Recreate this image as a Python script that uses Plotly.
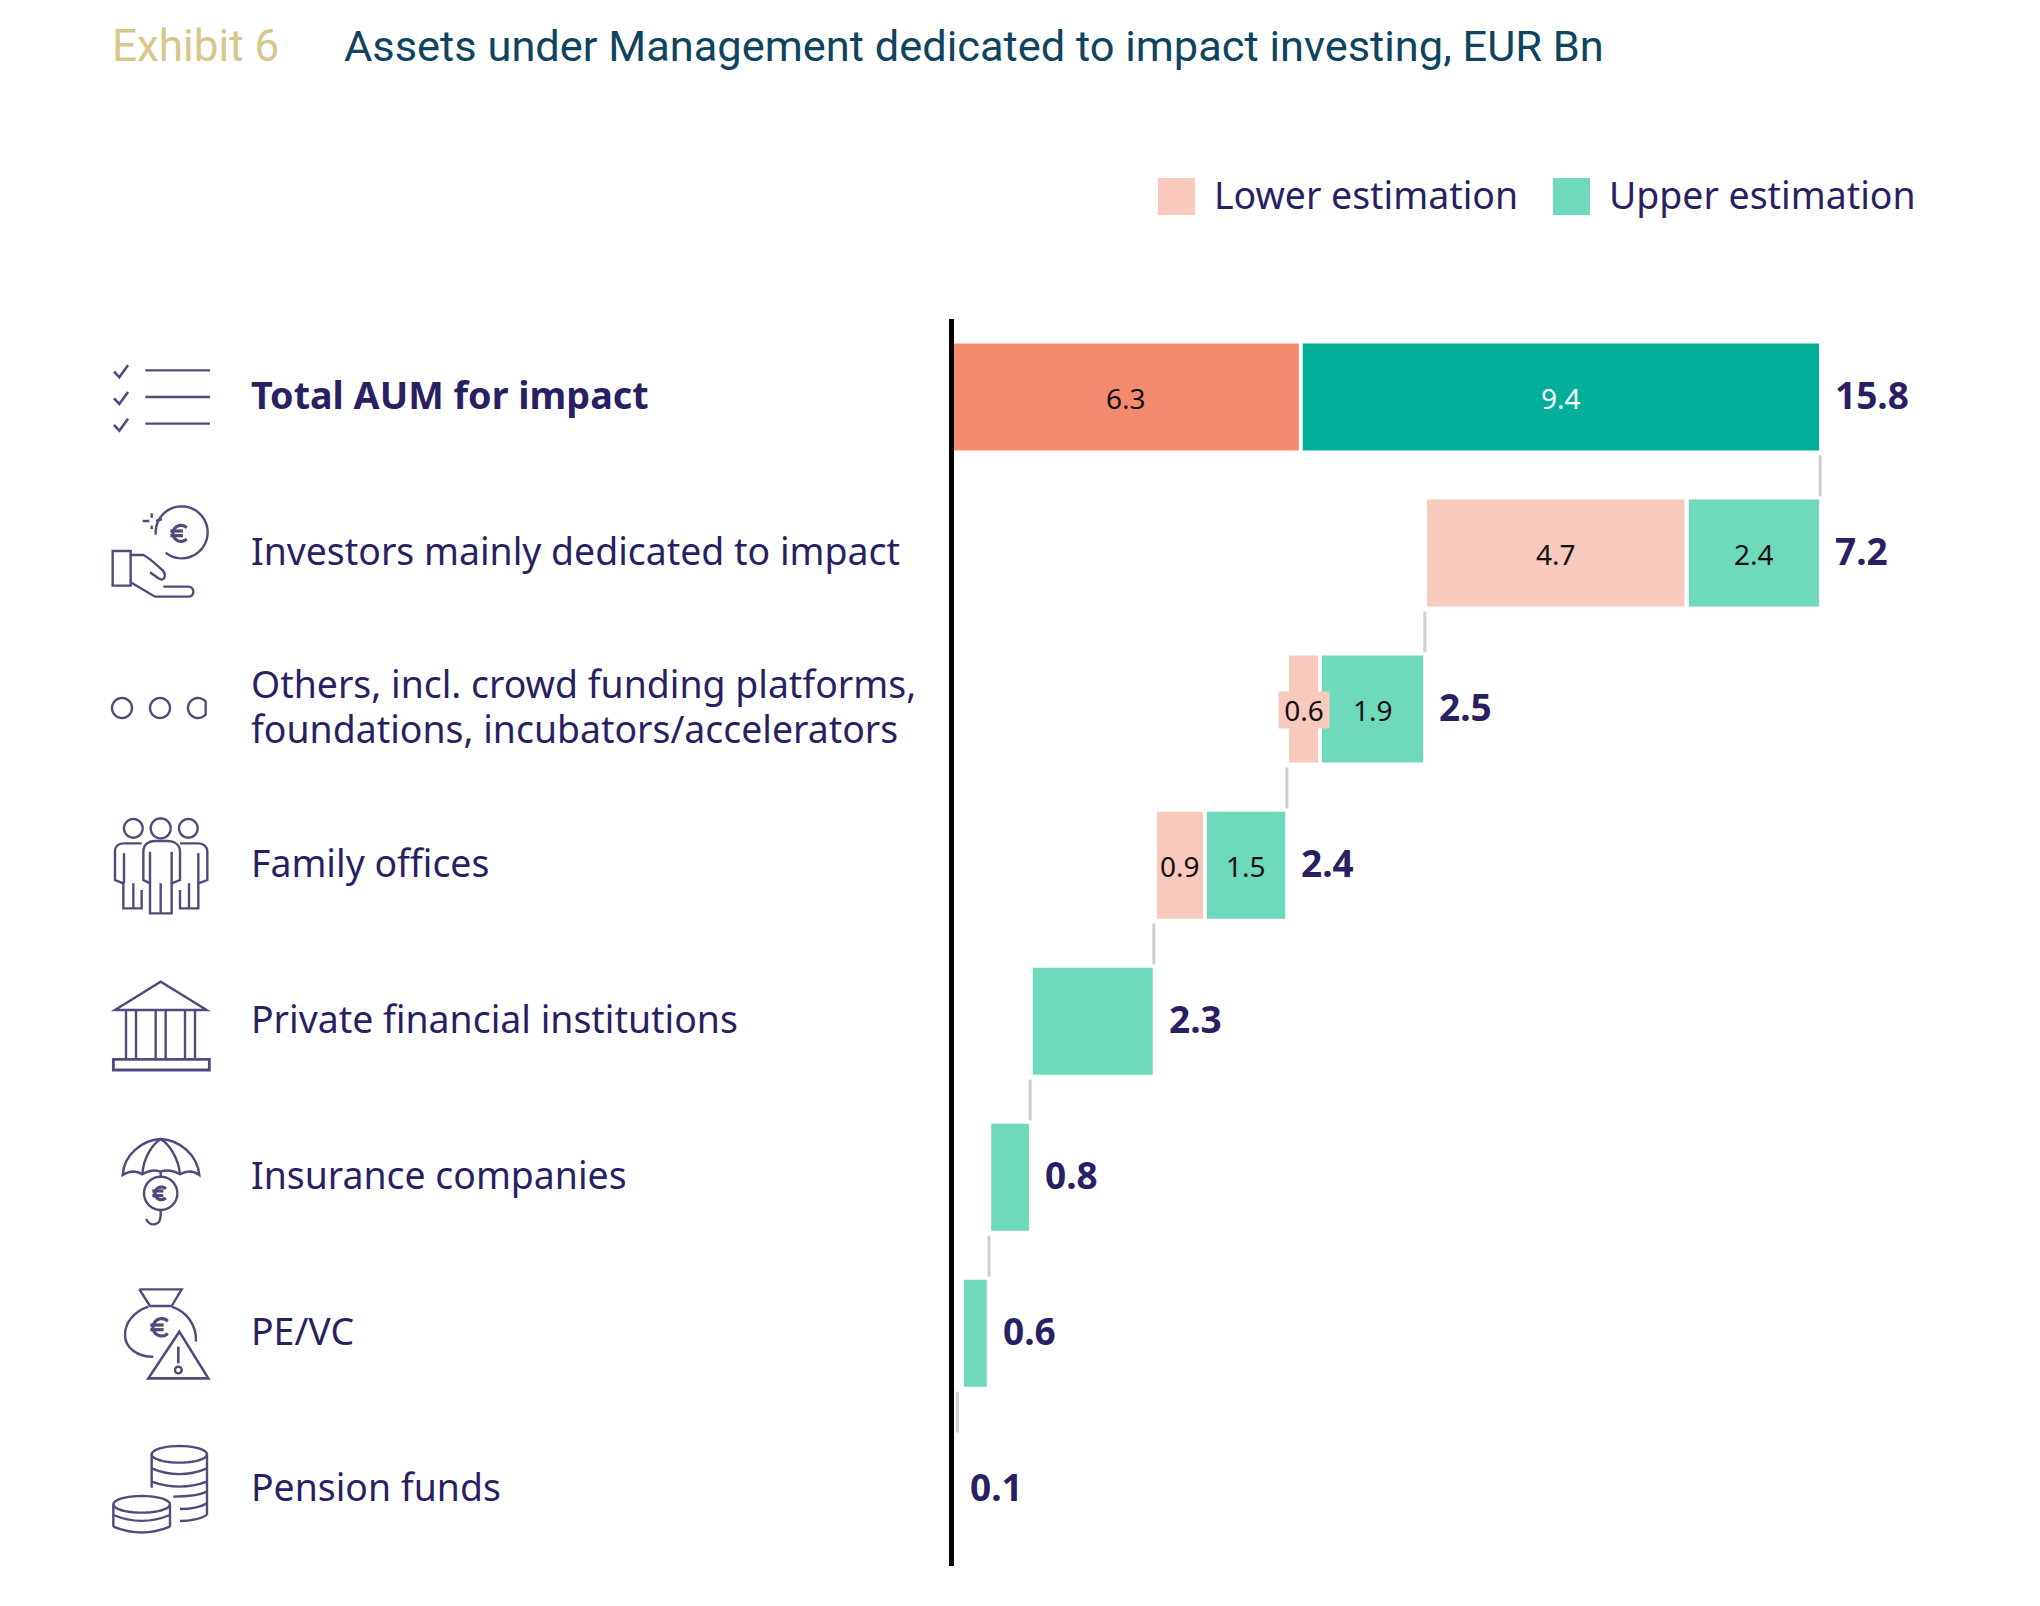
import math
import re
import plotly.graph_objects as go

W, H = 2040, 1606

# ---- data -----------------------------------------------------------------
categories = ["Total AUM for impact", "Investors mainly dedicated to impact",
              "Others, incl. crowd funding platforms,<br>foundations, incubators/accelerators",
              "Family offices", "Private financial institutions", "Insurance companies",
              "PE/VC", "Pension funds"]
rows = [0, 1, 2, 3, 4, 5, 6, 7]
totals = [15.8, 7.2, 2.5, 2.4, 2.3, 0.8, 0.6, 0.1]
lower_start = [0.0, 8.64, 6.12, 3.71, 0, 0, 0, 0]
lower_len = [6.3, 4.7, 0.53, 0.84, 0, 0, 0, 0]
upper_start = [6.37, 13.42, 6.72, 4.62, 1.44, 0.68, 0.18, 0]
upper_len = [9.43, 2.38, 1.85, 1.43, 2.19, 0.69, 0.42, 0]
lower_text = ["6.3", "4.7", "0.6", "0.9"]
upper_text = ["9.4", "2.4", "1.9", "1.5"]
connector_x = [15.82, 8.6, 6.08, 3.65, 1.39, 0.64, 0.06]

LOWER_DARK, LOWER = "#F48B6E", "#F9C9BD"
UPPER_DARK, UPPER = "#02AF9B", "#6FD9BB"
INK = "#2A1F63"
ICON = "#4F4C7C"
FONT = "Noto Sans"

# ---- layout constants ------------------------------------------------------
PX = 54.75
PLOT_L, PLOT_R, PLOT_T, PLOT_B = 954, 1900, 319, 1566
ROW0, ROWH = 397, 156.05
LABEL_SIZE = 37.4
LINE_GAP = 45.5


def px(x):
    return x / W


def py(y):
    return 1 - y / H


fig = go.Figure()
fig.add_trace(go.Bar(name="Lower estimation", orientation="h", y=rows, x=lower_len, base=lower_start,
                     width=107 / ROWH, showlegend=False,
                     marker=dict(color=[LOWER_DARK] + [LOWER] * 7, line_width=0)))
fig.add_trace(go.Bar(name="Upper estimation", orientation="h", y=rows, x=upper_len, base=upper_start,
                     width=107 / ROWH, showlegend=False,
                     marker=dict(color=[UPPER_DARK] + [UPPER] * 7, line_width=0)))
cx, cy = [], []
for i, v in enumerate(connector_x):
    cx += [v, v, None]
    cy += [i + 0.374, i + 0.636, None]
fig.add_trace(go.Scatter(x=cx, y=cy, mode="lines", showlegend=False, hoverinfo="skip",
                         line=dict(color="#CFCFCF", width=3)))

ann = []
# segment labels
for i, t in enumerate(lower_text):
    extra = dict(bgcolor=LOWER, width=50, height=36, align="center") if i == 2 else {}
    ann.append(dict(x=lower_start[i] + lower_len[i] / 2, y=i + 0.005, xref="x", yref="y", text=t, showarrow=False,
                    font=dict(family=FONT, size=28, color="#111111"), borderpad=0, **extra))
for i, t in enumerate(upper_text):
    ann.append(dict(x=upper_start[i] + upper_len[i] / 2, y=i + 0.005, xref="x", yref="y", text=t, showarrow=False,
                    font=dict(family=FONT, size=28, color="#FFFFFF" if i == 0 else "#111111")))
# totals at the bar ends
for i, t in enumerate(totals):
    end = max(upper_start[i] + upper_len[i], 0)
    ann.append(dict(x=end, y=i, xref="x", yref="y", text=f"<b>{t}</b>", showarrow=False, xanchor="left", xshift=14,
                    yshift=3, font=dict(family=FONT, size=37, color=INK)))
# row labels
for i, t in enumerate(categories):
    lines = t.split("<br>")
    for k, line in enumerate(lines):
        txt = f"<b>{line}</b>" if i == 0 else line
        ann.append(dict(x=px(249), y=i, xref="paper", yref="y", text=txt, showarrow=False, xanchor="left",
                        yshift=3 + ((len(lines) - 1) / 2 - k) * LINE_GAP,
                        font=dict(family=FONT, size=37.7 if i == 0 else LABEL_SIZE, color=INK)))
# title
ann.append(dict(x=px(110), y=py(46), xref="paper", yref="paper", yanchor="middle", text="Exhibit 6", showarrow=False,
                xanchor="left", font=dict(family="Roboto", size=44, color="#D8C78B")))
ann.append(dict(x=px(342), y=py(46), xref="paper", yref="paper", yanchor="middle",
                text="Assets under Management dedicated to impact investing, EUR Bn", showarrow=False, xanchor="left",
                font=dict(family="Roboto", size=43.4, color="#0F4460")))
# legend
for x0, col, name in [(1158, LOWER, "Lower estimation"), (1553, UPPER, "Upper estimation")]:
    ann.append(dict(x=px(x0 + 54), y=py(194), xref="paper", yref="paper", yanchor="middle", text=name, showarrow=False,
                    xanchor="left", font=dict(family=FONT, size=LABEL_SIZE, color=INK)))

shapes = [dict(type="rect", xref="paper", yref="paper", x0=px(x0), x1=px(x0 + 37), y0=py(178), y1=py(215),
               fillcolor=col, line_width=0)
          for x0, col in [(1158, LOWER), (1553, UPPER)]]


# ---- icons (decoration, drawn in a 3x local grid) --------------------------
def path(ox, oy, d, width=2.4):
    toks = re.findall(r"[MLCQZ]|-?\d+\.?\d*", d)
    s, is_x = "", True
    for t in toks:
        if t in "MLCQZ":
            s += t
            is_x = True
        else:
            v = ox + float(t) / 3 if is_x else oy + float(t) / 3
            s += " " + (f"{px(v):.5f}" if is_x else f"{py(v):.5f}")
            is_x = not is_x
    shapes.append(dict(type="path", xref="paper", yref="paper", path=s, line=dict(color=ICON, width=width),
                       fillcolor="rgba(0,0,0,0)"))


def arc(cx_, cy_, rx, ry, a0=0, a1=360, n=40):
    pts = []
    for k in range(n + 1):
        a = math.radians(a0 + (a1 - a0) * k / n)
        pts.append((cx_ + rx * math.cos(a), cy_ + ry * math.sin(a)))
    return "M" + " L".join(f"{a:.1f},{b:.1f}" for a, b in pts)


def euro(ox, oy, c_x, c_y, r, width=3.2):
    path(ox, oy, arc(c_x, c_y, r, r, 45, 315), width)
    path(ox, oy, f"M{c_x - r - 8},{c_y - 7} L{c_x + 6},{c_y - 7}", width)
    path(ox, oy, f"M{c_x - r - 8},{c_y + 7} L{c_x + 6},{c_y + 7}", width)


# checklist
o = (100, 350)
for dy in (0, 80, 160):
    path(*o, f"M42,{65 + dy} L58,{82 + dy} L84,{46 + dy}", 2.6)
    path(*o, f"M136,{61 + dy} L330,{61 + dy}", 2.4)
# hand + coin
o = (100, 495)
path(*o, arc(245, 112, 78, 78, 175, 488))
euro(*o, 243, 115, 24)
path(*o, "M128,78 L148,78 M168,78 L186,72 M155,55 L155,68 M155,92 L155,102")
path(*o, "M38,168 L92,168 L92,272 L38,272 Z")
path(*o, "M92,180 L130,180 C150,190 170,210 190,228 C198,240 195,262 175,250 L150,232")
path(*o, "M92,262 L165,305 L265,305 C285,305 285,275 265,275 L190,275")
# three dots (the last one is cut off flat at its right edge)
for c, a0, a1 in ((122, 0, 360), (160, 0, 360)):
    path(0, 0, arc(c * 3, 708 * 3, 30, 30, a0, a1))
path(0, 0, arc(198 * 3, 708 * 3, 30, 30, 40, 320) + " Z")
# family
o = (100, 805)
for c_x, r in ((100, 28), (182, 30), (265, 28)):
    path(*o, arc(c_x, 70, r, r))
path(*o, "M130,225 L130,140 C130,115 150,108 165,108 L200,108 C225,108 240,120 240,140 L240,225 L215,235 L215,325 L150,325 L150,235 Z")
path(*o, "M150,140 L150,235 M215,140 L215,235 M182,235 L182,325")
path(*o, "M125,115 L70,115 C55,115 45,125 45,140 L45,225 L70,235 L70,310 L125,310 L125,255")
path(*o, "M72,145 L72,235 M100,235 L100,310")
path(*o, "M240,115 L295,115 C310,115 322,125 322,140 L322,225 L295,235 L295,310 L240,310 L240,255")
path(*o, "M295,145 L295,235 M267,235 L267,310")
# bank
o = (100, 970)
path(*o, "M45,120 L182,35 L320,120 Z")
for c in (78, 108, 167, 197, 255, 285):
    path(*o, f"M{c},120 L{c},268")
path(*o, "M40,268 L328,268 L328,300 L40,300 Z", 2.8)
# umbrella
o = (100, 1125)
path(*o, "M68,150 C72,90 125,45 182,42 C240,45 292,90 298,150 Q270,130 240,148 Q210,130 182,140 Q155,130 127,148 Q100,130 68,150 Z")
path(*o, "M127,148 C130,100 155,60 182,42 C210,60 235,100 240,148 M182,140 L182,158")
path(*o, arc(182, 205, 50, 50))
euro(*o, 184, 205, 19)
path(*o, "M182,258 L182,270 C182,305 150,305 138,282")
# money bag + warning
o = (100, 1280)
path(*o, "M118,28 L245,28 L215,78 M118,28 L150,78 L215,78")
path(*o, "M145,80 C100,95 75,130 75,165 C75,205 115,232 160,230")
path(*o, "M215,80 C260,95 290,135 288,185")
euro(*o, 185, 142, 26)
path(*o, "M238,155 L325,295 L145,295 Z", 2.6)
path(*o, "M235,200 L235,250", 2.6)
path(*o, arc(235, 270, 10, 10))
# coins
o = (100, 1435)
path(*o, arc(238, 58, 83, 25))
path(*o, "M155,58 L155,158 M321,58 L321,240")
path(*o, "M155,100 Q238,135 321,100 M155,140 Q238,170 321,140 M220,185 Q290,185 321,170 M240,222 Q290,222 321,205 M240,258 Q290,258 321,240")
path(*o, arc(125, 208, 85, 25))
path(*o, "M40,208 L40,275 M210,208 L210,275 M40,240 Q125,275 210,240 M40,275 Q125,310 210,275")

fig.update_layout(
    width=W, height=H, margin=dict(l=0, r=0, t=0, b=0), autosize=False,
    paper_bgcolor="white", plot_bgcolor="white", barmode="overlay", showlegend=False,
    annotations=ann, shapes=shapes,
    xaxis=dict(domain=[px(PLOT_L), px(PLOT_R)], range=[0, (PLOT_R - PLOT_L) / PX], visible=False, fixedrange=True),
    yaxis=dict(domain=[py(PLOT_B), py(PLOT_T)],
               range=[(PLOT_B - ROW0) / ROWH, (PLOT_T - ROW0) / ROWH],
               showline=True, linecolor="black", linewidth=5, showticklabels=False, ticks="", showgrid=False,
               zeroline=False, fixedrange=True),
)
fig.write_html("out.html", config=dict(displayModeBar=False), post_script="document.body.style.margin='0';")
